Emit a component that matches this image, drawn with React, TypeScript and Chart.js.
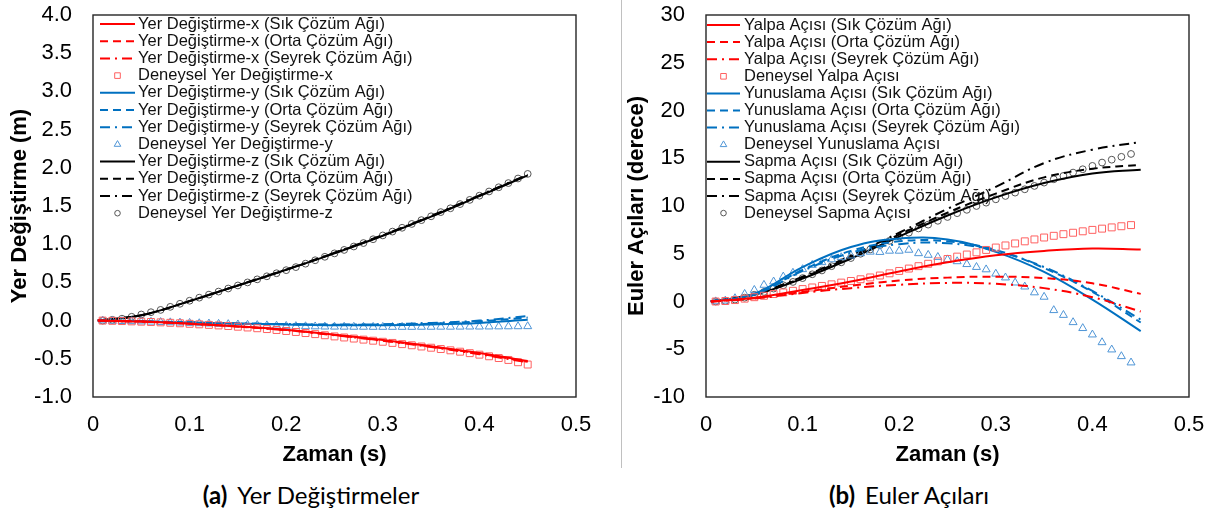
import React, { useEffect, useRef } from 'react';
import { Chart, registerables } from 'chart.js';

Chart.register(...registerables);

// ---------- Data ----------
const tSim = [0.005, 0.05, 0.1, 0.15, 0.2, 0.25, 0.3, 0.35, 0.4, 0.45];
const tExpA = [0.01, 0.02, 0.03, 0.04, 0.05, 0.06, 0.07, 0.08, 0.09, 0.1, 0.11, 0.12, 0.13, 0.14, 0.15, 0.16, 0.17, 0.18, 0.19, 0.2, 0.21, 0.22, 0.23, 0.24, 0.25, 0.26, 0.27, 0.28, 0.29, 0.3, 0.31, 0.32, 0.33, 0.34, 0.35, 0.36, 0.37, 0.38, 0.39, 0.4, 0.41, 0.42, 0.43, 0.44, 0.45];
const tExpB = [0.01, 0.02, 0.03, 0.04, 0.05, 0.06, 0.07, 0.08, 0.09, 0.1, 0.11, 0.12, 0.13, 0.14, 0.15, 0.16, 0.17, 0.18, 0.19, 0.2, 0.21, 0.22, 0.23, 0.24, 0.25, 0.26, 0.27, 0.28, 0.29, 0.3, 0.31, 0.32, 0.33, 0.34, 0.35, 0.36, 0.37, 0.38, 0.39, 0.4, 0.41, 0.42, 0.43, 0.44];

// Panel (a): displacements (m)
const xSik = [0, -0.012, -0.04, -0.075, -0.12, -0.185, -0.255, -0.335, -0.425, -0.53];
const xOrta = [0, -0.012, -0.041, -0.077, -0.123, -0.188, -0.26, -0.34, -0.432, -0.538];
const xSeyrek = [0, -0.013, -0.042, -0.079, -0.126, -0.191, -0.264, -0.346, -0.44, -0.546];
const xExp = [0, -0.003, -0.006, -0.01, -0.014, -0.018, -0.023, -0.029, -0.035, -0.042, -0.049, -0.056, -0.063, -0.071, -0.08, -0.09, -0.1, -0.111, -0.123, -0.136, -0.149, -0.163, -0.177, -0.192, -0.207, -0.221, -0.235, -0.249, -0.263, -0.277, -0.292, -0.308, -0.323, -0.339, -0.355, -0.372, -0.389, -0.407, -0.426, -0.446, -0.467, -0.49, -0.515, -0.545, -0.575];
const ySik = [0, -0.01, -0.025, -0.04, -0.05, -0.06, -0.06, -0.05, -0.03, 0.01];
const yOrta = [0, -0.01, -0.024, -0.038, -0.047, -0.055, -0.052, -0.04, -0.01, 0.04];
const ySeyrek = [0, -0.01, -0.023, -0.036, -0.045, -0.052, -0.048, -0.03, 0.0, 0.06];
const yExp = [0, -0.005, -0.008, -0.01, -0.013, -0.016, -0.02, -0.024, -0.028, -0.032, -0.036, -0.04, -0.044, -0.048, -0.052, -0.056, -0.06, -0.064, -0.068, -0.071, -0.074, -0.076, -0.078, -0.08, -0.081, -0.082, -0.083, -0.083, -0.084, -0.084, -0.084, -0.084, -0.084, -0.083, -0.083, -0.082, -0.082, -0.081, -0.08, -0.08, -0.079, -0.078, -0.077, -0.076, -0.075];
const zSik = [0, 0.07, 0.255, 0.46, 0.665, 0.88, 1.11, 1.36, 1.63, 1.9];
const zOrta = [0, 0.07, 0.255, 0.46, 0.665, 0.885, 1.115, 1.365, 1.635, 1.905];
const zSeyrek = [0, 0.07, 0.256, 0.462, 0.668, 0.888, 1.12, 1.37, 1.64, 1.91];
const zExp = [0, 0.01, 0.025, 0.05, 0.08, 0.11, 0.14, 0.18, 0.22, 0.26, 0.3, 0.34, 0.38, 0.42, 0.46, 0.5, 0.54, 0.58, 0.62, 0.66, 0.7, 0.745, 0.79, 0.835, 0.88, 0.925, 0.97, 1.015, 1.065, 1.115, 1.165, 1.215, 1.265, 1.315, 1.365, 1.42, 1.47, 1.525, 1.58, 1.635, 1.69, 1.745, 1.8, 1.86, 1.92];

// Panel (b): Euler angles (deg)
const rollSik = [0, 0.4, 1.2, 2.1, 3.15, 4.1, 4.85, 5.3, 5.55, 5.45];
const rollOrta = [0, 0.35, 1.0, 1.65, 2.2, 2.5, 2.6, 2.45, 1.9, 0.8];
const rollSeyrek = [0, 0.3, 0.9, 1.4, 1.75, 1.95, 1.85, 1.4, 0.45, -1.05];
const rollExp = [0, 0.05, 0.15, 0.3, 0.45, 0.6, 0.78, 0.95, 1.12, 1.3, 1.47, 1.63, 1.8, 1.98, 2.15, 2.33, 2.52, 2.72, 2.95, 3.2, 3.45, 3.7, 3.95, 4.2, 4.45, 4.7, 4.92, 5.15, 5.4, 5.65, 5.87, 6.08, 6.3, 6.5, 6.7, 6.88, 7.05, 7.2, 7.35, 7.5, 7.63, 7.76, 7.88, 8.0];
const pitchSik = [0, 0.8, 3.6, 5.7, 6.6, 6.5, 5.2, 3.1, 0.2, -3.1];
const pitchOrta = [0, 0.7, 3.3, 5.3, 6.3, 6.3, 5.4, 3.5, 1.0, -2.2];
const pitchSeyrek = [0, 0.7, 3.2, 5.1, 6.0, 6.1, 5.3, 3.6, 1.1, -1.9];
const pitchExp = [0, 0.08, 0.33, 0.78, 1.2, 1.73, 2.08, 2.6, 3.0, 3.37, 3.82, 4.1, 4.4, 4.62, 4.8, 5.04, 5.2, 5.17, 5.3, 5.3, 5.4, 5.04, 4.87, 4.65, 4.4, 4.2, 3.9, 3.6, 3.35, 2.9, 2.5, 1.97, 1.55, 0.94, 0.48, -0.92, -1.42, -2.18, -2.8, -3.47, -4.28, -5.04, -5.74, -6.4];
const yawSik = [0, 0.7, 2.4, 4.5, 6.8, 9.0, 10.9, 12.4, 13.4, 13.8];
const yawOrta = [0, 0.75, 2.5, 4.7, 7.0, 9.3, 11.3, 13.0, 13.9, 14.3];
const yawSeyrek = [0, 0.8, 2.6, 4.8, 7.2, 9.7, 12.0, 14.5, 15.9, 16.7];
const yawExp = [0, 0.05, 0.2, 0.4, 0.7, 1.0, 1.35, 1.7, 2.05, 2.45, 2.85, 3.25, 3.7, 4.1, 4.55, 5.0, 5.45, 5.9, 6.35, 6.8, 7.2, 7.65, 8.05, 8.45, 8.85, 9.25, 9.6, 10.0, 10.35, 10.7, 11.05, 11.4, 11.75, 12.1, 12.45, 12.8, 13.15, 13.5, 13.85, 14.2, 14.55, 14.85, 15.15, 15.45];

// Labels
const labelsA = [
  'Yer Değiştirme-x (Sık Çözüm Ağı)', 'Yer Değiştirme-x (Orta Çözüm Ağı)', 'Yer Değiştirme-x (Seyrek Çözüm Ağı)', 'Deneysel Yer Değiştirme-x',
  'Yer Değiştirme-y (Sık Çözüm Ağı)', 'Yer Değiştirme-y (Orta Çözüm Ağı)', 'Yer Değiştirme-y (Seyrek Çözüm Ağı)', 'Deneysel Yer Değiştirme-y',
  'Yer Değiştirme-z (Sık Çözüm Ağı)', 'Yer Değiştirme-z (Orta Çözüm Ağı)', 'Yer Değiştirme-z (Seyrek Çözüm Ağı)', 'Deneysel Yer Değiştirme-z',
];
const labelsB = [
  'Yalpa Açısı (Sık Çözüm Ağı)', 'Yalpa Açısı (Orta Çözüm Ağı)', 'Yalpa Açısı (Seyrek Çözüm Ağı)', 'Deneysel Yalpa Açısı',
  'Yunuslama Açısı (Sık Çözüm Ağı)', 'Yunuslama Açısı (Orta Çözüm Ağı)', 'Yunuslama Açısı (Seyrek Çözüm Ağı)', 'Deneysel Yunuslama Açısı',
  'Sapma Açısı (Sık Çözüm Ağı)', 'Sapma Açısı (Orta Çözüm Ağı)', 'Sapma Açısı (Seyrek Çözüm Ağı)', 'Deneysel Sapma Açısı',
];

// ---------- Styles ----------
const RED = '#FF0000';
const BLUE = '#0070C0';
const BLACK = '#000000';
const RED_M = '#FF6060';
const BLUE_M = '#4F95D6';
const BLACK_M = '#555555';
const DASH = [8, 5];
const DASHDOT = [10, 5, 2, 5];
const FONT = "'Liberation Sans', Arial, sans-serif";

const pts = (xs: number[], ys: number[]) => xs.map((x, i) => ({ x, y: ys[i] }));

function lineDs(label: string, data: number[], color: string, dash: number[]) {
  return {
    label,
    data: pts(tSim, data),
    borderColor: color,
    backgroundColor: color,
    borderWidth: 2,
    borderDash: dash,
    pointRadius: 0,
    pointHoverRadius: 0,
    tension: 0.4,
    fill: false,
    showLine: true,
  };
}

function markDs(label: string, xs: number[], data: number[], color: string, style: string, r: number) {
  return {
    label,
    data: pts(xs, data),
    borderColor: color,
    backgroundColor: 'rgba(0,0,0,0)',
    pointBorderColor: color,
    pointBackgroundColor: 'rgba(0,0,0,0)',
    pointBorderWidth: 1,
    pointStyle: style,
    pointRadius: r,
    pointHoverRadius: r,
    showLine: false,
  };
}

// ---------- Plugins ----------
const framePlugin = {
  id: 'frameBox',
  beforeDatasetsDraw(chart: any) {
    const { ctx, chartArea: a } = chart;
    ctx.save();
    ctx.strokeStyle = '#262626';
    ctx.lineWidth = 1.4;
    ctx.strokeRect(a.left, a.top, a.right - a.left, a.bottom - a.top);
    ctx.restore();
  },
};

const legendPlugin = {
  id: 'insideLegend',
  afterDatasetsDraw(chart: any, _args: any, opts: any) {
    const { ctx, chartArea: a } = chart;
    ctx.save();
    ctx.font = opts.font;
    ctx.textBaseline = 'middle';
    ctx.textAlign = 'left';
    chart.data.datasets.forEach((ds: any, i: number) => {
      const x = a.left + opts.dx;
      const y = a.top + opts.dy + i * opts.row;
      ctx.save();
      if (ds.showLine) {
        ctx.strokeStyle = ds.borderColor;
        ctx.lineWidth = ds.borderWidth;
        ctx.setLineDash(ds.borderDash || []);
        ctx.beginPath();
        ctx.moveTo(x, y);
        ctx.lineTo(x + opts.lineLen, y);
        ctx.stroke();
      } else {
        const cx = x + opts.lineLen / 2;
        ctx.strokeStyle = ds.pointBorderColor;
        ctx.lineWidth = 1;
        ctx.beginPath();
        if (ds.pointStyle === 'rect') {
          ctx.rect(cx - 2.8, y - 2.8, 5.6, 5.6);
        } else if (ds.pointStyle === 'triangle') {
          const r = 3.8;
          ctx.moveTo(cx, y - r);
          ctx.lineTo(cx + r * 0.866, y + r / 2);
          ctx.lineTo(cx - r * 0.866, y + r / 2);
          ctx.closePath();
        } else {
          ctx.arc(cx, y, 2.8, 0, Math.PI * 2);
        }
        ctx.stroke();
      }
      ctx.restore();
      ctx.fillStyle = '#111';
      ctx.fillText(ds.label, x + opts.lineLen + opts.gap, y);
    });
    ctx.restore();
  },
};

// ---------- Config ----------
const tickFont = { family: FONT, size: 22 };
const titleFont = { family: FONT, size: 22, weight: 'bold' as const };

function makeConfig(p: {
  datasets: any[];
  yMin: number; yMax: number; yStep: number; yDigits: number;
  yTitle: string; yWidth: number; yTitlePad: number; rightPad: number;
  legend: any;
}) {
  return {
    type: 'scatter' as const,
    data: { datasets: p.datasets },
    plugins: [framePlugin, legendPlugin],
    options: {
      animation: false as const,
      responsive: false,
      devicePixelRatio: 1,
      layout: { padding: { left: 0, top: 15, right: p.rightPad, bottom: 0 } },
      plugins: {
        legend: { display: false },
        tooltip: { enabled: false },
        insideLegend: p.legend,
      },
      scales: {
        x: {
          type: 'linear' as const,
          min: 0,
          max: 0.5,
          afterFit: (s: any) => { s.height = 73; s.paddingLeft = 0; s.paddingRight = 0; },
          grid: { display: false, drawTicks: false },
          border: { display: false },
          ticks: {
            stepSize: 0.1,
            padding: 15,
            autoSkip: false,
            maxRotation: 0,
            color: '#000',
            font: tickFont,
            callback: (v: any) => (Math.abs(Number(v)) < 1e-9 ? '0' : Number(v).toFixed(1)),
          },
          title: { display: true, text: 'Zaman (s)', color: '#000', font: titleFont, padding: { top: 0, bottom: 1.8 } },
        },
        y: {
          type: 'linear' as const,
          min: p.yMin,
          max: p.yMax,
          afterFit: (s: any) => { s.width = p.yWidth; s.paddingTop = 0; s.paddingBottom = 0; },
          grid: { display: false, drawTicks: false },
          border: { display: false },
          ticks: {
            stepSize: p.yStep,
            padding: 21,
            autoSkip: false,
            color: '#000',
            font: tickFont,
            callback: (v: any) => Number(v).toFixed(p.yDigits),
          },
          title: { display: true, text: p.yTitle, color: '#000', font: titleFont, padding: { top: p.yTitlePad, bottom: 0 } },
        },
      },
    },
  };
}

const datasetsA = [
  lineDs(labelsA[0], xSik, RED, []),
  lineDs(labelsA[1], xOrta, RED, DASH),
  lineDs(labelsA[2], xSeyrek, RED, DASHDOT),
  markDs(labelsA[3], tExpA, xExp, RED_M, 'rect', 4.9),
  lineDs(labelsA[4], ySik, BLUE, []),
  lineDs(labelsA[5], yOrta, BLUE, DASH),
  lineDs(labelsA[6], ySeyrek, BLUE, DASHDOT),
  markDs(labelsA[7], tExpA, yExp, BLUE_M, 'triangle', 4.6),
  lineDs(labelsA[8], zSik, BLACK, []),
  lineDs(labelsA[9], zOrta, BLACK, DASH),
  lineDs(labelsA[10], zSeyrek, BLACK, DASHDOT),
  markDs(labelsA[11], tExpA, zExp, BLACK_M, 'circle', 3.4),
];

const datasetsB = [
  lineDs(labelsB[0], rollSik, RED, []),
  lineDs(labelsB[1], rollOrta, RED, DASH),
  lineDs(labelsB[2], rollSeyrek, RED, DASHDOT),
  markDs(labelsB[3], tExpB, rollExp, RED_M, 'rect', 4.9),
  lineDs(labelsB[4], pitchSik, BLUE, []),
  lineDs(labelsB[5], pitchOrta, BLUE, DASH),
  lineDs(labelsB[6], pitchSeyrek, BLUE, DASHDOT),
  markDs(labelsB[7], tExpB, pitchExp, BLUE_M, 'triangle', 4.6),
  lineDs(labelsB[8], yawSik, BLACK, []),
  lineDs(labelsB[9], yawOrta, BLACK, DASH),
  lineDs(labelsB[10], yawSeyrek, BLACK, DASHDOT),
  markDs(labelsB[11], tExpB, yawExp, BLACK_M, 'circle', 3.4),
];

const configA = () => makeConfig({
  datasets: datasetsA,
  yMin: -1, yMax: 4, yStep: 0.5, yDigits: 1,
  yTitle: 'Yer Değiştirme (m)', yWidth: 93, yTitlePad: 6.8, rightPad: 34,
  legend: { dx: 7, dy: 9, row: 17.2, lineLen: 35, gap: 3, font: `16.5px ${FONT}` },
});

const configB = () => makeConfig({
  datasets: datasetsB,
  yMin: -10, yMax: 30, yStep: 5, yDigits: 0,
  yTitle: 'Euler Açıları (derece)', yWidth: 85, yTitlePad: 2.8, rightPad: 28,
  legend: { dx: 1, dy: 10, row: 17.1, lineLen: 33, gap: 4, font: `16.5px ${FONT}` },
});

function Panel({ make, width, height }: { make: () => any; width: number; height: number }) {
  const ref = useRef<HTMLCanvasElement>(null);
  useEffect(() => {
    const chart = new Chart(ref.current as HTMLCanvasElement, make());
    return () => chart.destroy();
  }, []);
  return <canvas ref={ref} width={width} height={height} style={{ display: 'block', width, height }} />;
}

const captionStyle: React.CSSProperties = {
  position: 'absolute',
  top: 480,
  width: 400,
  height: 30,
  lineHeight: '30px',
  textAlign: 'center',
  fontFamily: "Lato, 'Noto Sans', sans-serif",
  fontSize: 24,
  color: '#000',
  whiteSpace: 'nowrap',
};

export default function App() {
  return (
    <div style={{ position: 'absolute', left: 0, top: 0, width: 1217, height: 519, background: '#fff', overflow: 'hidden' }}>
      <div style={{ position: 'absolute', left: 0, top: 0 }}>
        <Panel make={configA} width={610} height={470} />
      </div>
      <div style={{ position: 'absolute', left: 621, top: 0, width: 1, height: 468, background: '#c0c0c0' }} />
      <div style={{ position: 'absolute', left: 621, top: 0 }}>
        <Panel make={configB} width={596} height={470} />
      </div>
      <div style={{ ...captionStyle, left: 311 - 200 }}>
        <span style={{ fontWeight: 700, marginRight: 10 }}>(a)</span>Yer Değiştirmeler
      </div>
      <div style={{ ...captionStyle, left: 909 - 200 }}>
        <span style={{ fontWeight: 700, marginRight: 10 }}>(b)</span>Euler Açıları
      </div>
    </div>
  );
}
